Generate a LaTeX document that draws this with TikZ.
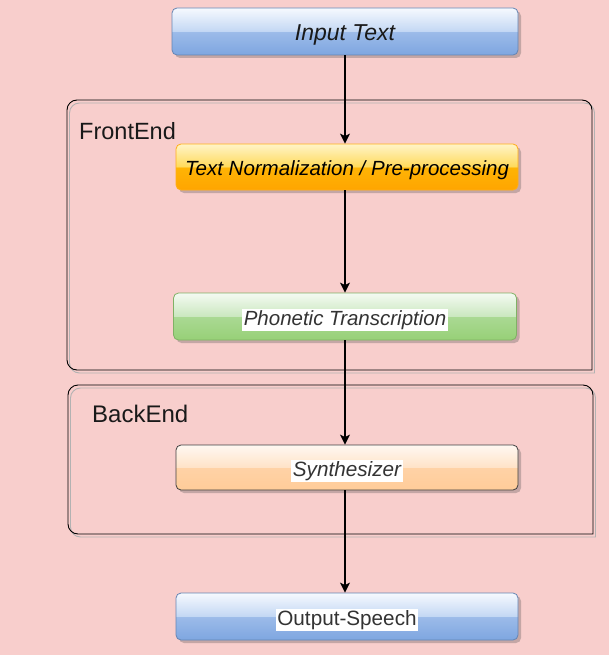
\documentclass[tikz,border=0pt]{standalone}
\usepackage{fontspec}
\setmainfont{Liberation Sans}
\usetikzlibrary{arrows.meta,shadows,calc}
\definecolor{bgpink}{HTML}{F8CECC}
% blue
\definecolor{bB}{HTML}{7EA6E0}\definecolor{bM}{HTML}{9CBBE9}\definecolor{bG}{HTML}{C4D8F4}\definecolor{bT}{HTML}{F6F9FE}
% orange
\definecolor{oB}{HTML}{FFA500}\definecolor{oM}{HTML}{FFB405}\definecolor{oG}{HTML}{FFDA5C}\definecolor{oT}{HTML}{FFF4C8}
% green
\definecolor{gB}{HTML}{97D077}\definecolor{gM}{HTML}{AAD993}\definecolor{gG}{HTML}{CBE8C0}\definecolor{gT}{HTML}{F4FAF2}
% peach
\definecolor{pB}{HTML}{FFCC99}\definecolor{pM}{HTML}{FFD2A6}\definecolor{pG}{HTML}{FFE3C8}\definecolor{pT}{HTML}{FFF8F2}
\definecolor{txtgray}{HTML}{333333}
\pgfdeclareverticalshading{glassblue}{100bp}{color(0bp)=(bB); color(25bp)=(bB); color(49.5bp)=(bM); color(50.5bp)=(bG); color(75bp)=(bT); color(100bp)=(bT)}
\pgfdeclareverticalshading{glassorange}{100bp}{color(0bp)=(oB); color(25bp)=(oB); color(49.5bp)=(oM); color(50.5bp)=(oG); color(75bp)=(oT); color(100bp)=(oT)}
\pgfdeclareverticalshading{glassgreen}{100bp}{color(0bp)=(gB); color(25bp)=(gB); color(49.5bp)=(gM); color(50.5bp)=(gG); color(75bp)=(gT); color(100bp)=(gT)}
\pgfdeclareverticalshading{glasspeach}{100bp}{color(0bp)=(pB); color(25bp)=(pB); color(49.5bp)=(pM); color(50.5bp)=(pG); color(75bp)=(pT); color(100bp)=(pT)}
\tikzset{
  stagebox/.style={rounded corners=5pt, inner sep=0pt, line width=0.8pt,
    drop shadow={shadow xshift=3pt, shadow yshift=-3pt, opacity=0.3, fill=black!70}},
  bluebox/.style={stagebox, shading=glassblue, draw=bB!80!black},
  orangebox/.style={stagebox, shading=glassorange, draw=oB!90!white},
  greenbox/.style={stagebox, shading=glassgreen, draw=gB!85!black},
  peachbox/.style={stagebox, shading=glasspeach, draw=black!75},
  arr/.style={line width=1.2pt, -{Stealth[length=10pt,width=10pt,inset=2.5pt]}},
  grouplbl/.style={anchor=west, inner sep=0pt},
}
\newcommand{\wlabel}[1]{\raisebox{-3.5pt}[\height][\depth]{\setlength{\fboxsep}{1.5pt}\colorbox{white}{#1}}}
\newcommand{\dlabel}[1]{\raisebox{-3.5pt}[\height][\depth]{#1}}
\begin{document}
\begin{tikzpicture}[x=1pt,y=-1pt]
\useasboundingbox (0,0) rectangle (609,655);
\fill[bgpink] (0,0) rectangle (609,655);
% containers (stroke shadow + stroke)
\foreach \dx/\dy/\col in {2.5/3/black!30, 0/0/black}{
  \draw[line width=0.9pt, draw=\col, rounded corners=10pt, shift={(\dx,\dy)}]
    (592,185) -- (592,100) -- (67,100) -- (67,370) [sharp corners] -- (592,370) -- (592,185);
  \draw[line width=0.9pt, draw=\col, rounded corners=10pt, shift={(\dx,\dy)}]
    (593,460) -- (593,385) -- (68,385) -- (68,534) [sharp corners] -- (593,534) -- (593,460);
}
\node[grouplbl, font=\fontsize{23.5}{28}\selectfont, text=black!90] (fe) at (79,131) {FrontEnd};
\node[grouplbl, font=\fontsize{24}{29}\selectfont, text=black!90] (be) at (92,414) {BackEnd};
% stages
\node[bluebox, minimum width=346pt, minimum height=47pt, font=\fontsize{23}{27}\selectfont\itshape, text=black!90] (in) at (345,31.5) {\dlabel{Input Text}};
\node[orangebox, minimum width=342pt, minimum height=46pt, font=\fontsize{20.5}{24}\selectfont\itshape, text=black] (tn) at (347,167) {\dlabel{Text Normalization / Pre-processing}};
\node[greenbox, minimum width=343pt, minimum height=47pt, font=\fontsize{20.5}{24}\selectfont\itshape, text=txtgray] (ph) at (345,316.5) {\wlabel{Phonetic Transcription}};
\node[peachbox, minimum width=342pt, minimum height=45pt, font=\fontsize{20.7}{24}\selectfont\itshape, text=txtgray] (sy) at (347,467.5) {\wlabel{Synthesizer}};
\node[bluebox, minimum width=342pt, minimum height=47pt, font=\fontsize{20.7}{24}\selectfont, text=txtgray] (out) at (347,616.5) {\wlabel{Output-Speech}};
% connectors
\draw[arr] (in.south) -- (in.south |- tn.north);
\draw[arr] (in.south |- tn.south) -- (in.south |- ph.north);
\draw[arr] (ph.south) -- (ph.south |- sy.north);
\draw[arr] (ph.south |- sy.south) -- (ph.south |- out.north);
\end{tikzpicture}
\end{document}
